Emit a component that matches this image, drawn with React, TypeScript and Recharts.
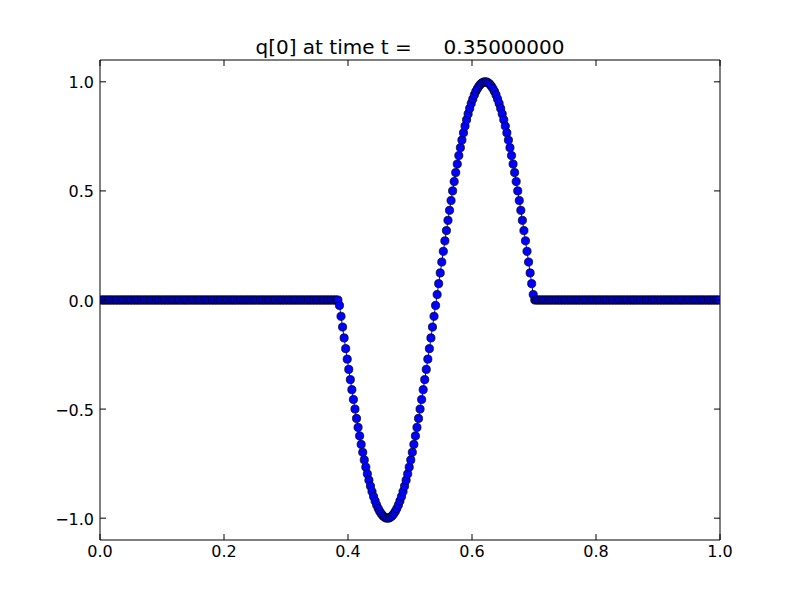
import React from 'react';
import { LineChart, Line, XAxis, YAxis } from 'recharts';

// q[0] on 400 cells (flat, one trough, one crest, flat)
const CELLS = 400;

const leftFlat = [
  0,0,0,0,0, 0,0,0,0,0, 0,0,0,0,0, 0,0,0,0,0,
  0,0,0,0,0, 0,0,0,0,0, 0,0,0,0,0, 0,0,0,0,0,
  0,0,0,0,0, 0,0,0,0,0, 0,0,0,0,0, 0,0,0,0,0,
  0,0,0,0,0, 0,0,0,0,0, 0,0,0,0,0, 0,0,0,0,0,
  0,0,0,0,0, 0,0,0,0,0, 0,0,0,0,0, 0,0,0,0,0,
  0,0,0,0,0, 0,0,0,0,0, 0,0,0,0,0, 0,0,0,0,0,
  0,0,0,0,0, 0,0,0,0,0, 0,0,0,0,0, 0,0,0,0,0,
  0,0,0,0,0, 0,0,0,0,0, 0,0,0,0,
];

const trough = [
  -0.025, -0.075, -0.124, -0.174, -0.223, -0.271, -0.318, -0.365, -0.411, -0.456,
  -0.500, -0.543, -0.584, -0.623, -0.662, -0.698, -0.733, -0.766, -0.797, -0.826,
  -0.853, -0.878, -0.901, -0.921, -0.940, -0.956, -0.969, -0.980, -0.989, -0.995,
  -0.999, -1.000, -0.999, -0.995, -0.989, -0.980, -0.969, -0.956, -0.940, -0.921,
  -0.901, -0.878, -0.853, -0.826, -0.797, -0.766, -0.733, -0.698, -0.662, -0.623,
  -0.584, -0.543, -0.500, -0.456, -0.411, -0.365, -0.318, -0.271, -0.223, -0.174,
  -0.124, -0.075, -0.025,
];

const crest = [
  0.025, 0.075, 0.124, 0.174, 0.223, 0.271, 0.318, 0.365, 0.411, 0.456,
  0.500, 0.543, 0.584, 0.623, 0.662, 0.698, 0.733, 0.766, 0.797, 0.826,
  0.853, 0.878, 0.901, 0.921, 0.940, 0.956, 0.969, 0.980, 0.989, 0.995,
  0.999, 1.000, 0.999, 0.995, 0.989, 0.980, 0.969, 0.956, 0.940, 0.921,
  0.901, 0.878, 0.853, 0.826, 0.797, 0.766, 0.733, 0.698, 0.662, 0.623,
  0.584, 0.543, 0.500, 0.456, 0.411, 0.365, 0.318, 0.271, 0.223, 0.174,
  0.124, 0.075, 0.025,
];

const rightFlat = [
  0,0,0,0,0, 0,0,0,0,0, 0,0,0,0,0, 0,0,0,0,0,
  0,0,0,0,0, 0,0,0,0,0, 0,0,0,0,0, 0,0,0,0,0,
  0,0,0,0,0, 0,0,0,0,0, 0,0,0,0,0, 0,0,0,0,0,
  0,0,0,0,0, 0,0,0,0,0, 0,0,0,0,0, 0,0,0,0,0,
  0,0,0,0,0, 0,0,0,0,0, 0,0,0,0,0, 0,0,0,0,0,
  0,0,0,0,0, 0,0,0,0,0, 0,0,0,0,0, 0,0,0,0,0,
];

const xTicks = [0, 0.2, 0.4, 0.6, 0.8, 1.0];
const yTicks = [-1, -0.5, 0, 0.5, 1];
const title = 'q[0] at time t =     0.35000000';

const qValues = [...leftFlat, ...trough, ...crest, ...rightFlat];
// cell centres of the uniform grid
const data = qValues.map((q, i) => ({ x: (i + 0.5) / CELLS, q }));

const FONT = '"DejaVu Sans", sans-serif';
const PLOT_LEFT = 100;
const PLOT_RIGHT = 720;
const PLOT_TOP = 60;
const PLOT_BOTTOM = 540;
const TICK_LEN = 6;

const fmt = (v: number) => v.toFixed(1).replace('-', '\u2212');

const BottomTick = (props: any) => {
  const { x, payload } = props;
  return (
    <g>
      <line x1={x} x2={x} y1={PLOT_BOTTOM} y2={PLOT_BOTTOM - TICK_LEN} stroke="#000" />
      <text x={x} y={PLOT_BOTTOM + 17} textAnchor="middle" fontSize={16} fontFamily={FONT} fill="#000">
        {fmt(payload.value)}
      </text>
    </g>
  );
};

const LeftTick = (props: any) => {
  const { y, payload } = props;
  return (
    <g>
      <line x1={PLOT_LEFT} x2={PLOT_LEFT + TICK_LEN} y1={y} y2={y} stroke="#000" />
      <text x={PLOT_LEFT - 6} y={y} dy={6.5} textAnchor="end" fontSize={16} fontFamily={FONT} fill="#000">
        {fmt(payload.value)}
      </text>
    </g>
  );
};

// tick marks only, pointing inward, on the top and right spines
const TopTick = (props: any) => (
  <line x1={props.x} x2={props.x} y1={PLOT_TOP} y2={PLOT_TOP + TICK_LEN} stroke="#000" />
);

const RightTick = (props: any) => (
  <line x1={PLOT_RIGHT} x2={PLOT_RIGHT - TICK_LEN} y1={props.y} y2={props.y} stroke="#000" />
);

export default function App() {
  return (
    <div style={{ position: 'absolute', left: 0, top: 0, width: 800, height: 600, background: '#fff' }}>
      <div
        style={{
          position: 'absolute',
          left: 0,
          width: 820,
          top: 37,
          textAlign: 'center',
          fontFamily: FONT,
          fontSize: 20,
          lineHeight: '20px',
          whiteSpace: 'pre',
          color: '#000',
        }}
      >
        {title}
      </div>
      <LineChart width={800} height={600} data={data} margin={{ top: 59, right: 79, bottom: 30, left: 40 }}>
        <XAxis
          dataKey="x"
          type="number"
          domain={[0, 1]}
          ticks={xTicks}
          allowDataOverflow
          height={30}
          axisLine={{ stroke: '#000' }}
          tickLine={false}
          tick={<BottomTick />}
        />
        <XAxis
          xAxisId="top"
          dataKey="x"
          orientation="top"
          type="number"
          domain={[0, 1]}
          ticks={xTicks}
          allowDataOverflow
          height={1}
          axisLine={{ stroke: '#000' }}
          tickLine={false}
          tick={<TopTick />}
        />
        <YAxis
          type="number"
          domain={[-1.1, 1.1]}
          ticks={yTicks}
          allowDataOverflow
          width={60}
          axisLine={{ stroke: '#000' }}
          tickLine={false}
          tick={<LeftTick />}
        />
        <YAxis
          yAxisId="right"
          orientation="right"
          type="number"
          domain={[-1.1, 1.1]}
          ticks={yTicks}
          allowDataOverflow
          width={1}
          axisLine={{ stroke: '#000' }}
          tickLine={false}
          tick={<RightTick />}
        />
        {/* invisible twin so the top/right frame axes are in use */}
        <Line
          xAxisId="top"
          yAxisId="right"
          type="linear"
          dataKey="q"
          stroke="none"
          dot={false}
          activeDot={false}
          isAnimationActive={false}
        />
        <Line
          type="linear"
          dataKey="q"
          stroke="#0000ff"
          strokeWidth={1}
          dot={{ r: 4.1, fill: '#0000ff', stroke: '#000', strokeWidth: 0.7 }}
          activeDot={false}
          isAnimationActive={false}
        />
      </LineChart>
    </div>
  );
}
